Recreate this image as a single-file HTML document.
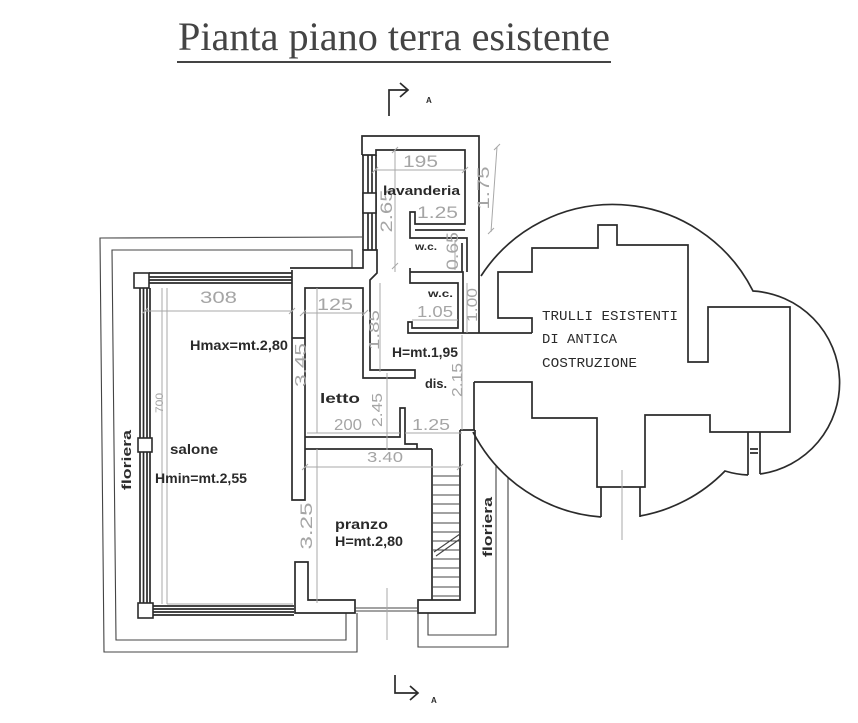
<!DOCTYPE html>
<html><head><meta charset="utf-8"><style>
html,body{margin:0;padding:0;background:#fff;}
svg{display:block;}
.w{stroke:#2b2b2b;stroke-width:1.7;fill:none;stroke-linejoin:miter}
.wf{stroke:#2b2b2b;stroke-width:1.6;fill:#fff}
.t{stroke:#444;stroke-width:1.1;fill:none}
.d{stroke:#a8a8a8;stroke-width:1;fill:none}
.lbl{font-family:"Liberation Sans",sans-serif;font-weight:bold;fill:#2a2a2a}
.dim{font-family:"Liberation Sans",sans-serif;fill:#a5a5a5}
.mono{font-family:"Liberation Mono",monospace;fill:#2a2a2a}
</style></head><body>
<svg width="858" height="723" viewBox="0 0 858 723" xmlns="http://www.w3.org/2000/svg">
<!-- Title -->
<text x="178" y="50" font-family="Liberation Serif, serif" font-size="40" fill="#444" textLength="432" lengthAdjust="spacingAndGlyphs">Pianta piano terra esistente</text>
<line x1="177" y1="62" x2="611" y2="62" stroke="#444" stroke-width="2"/>

<!-- Section arrows -->
<path class="w" d="M389,116 L389,90 L408,90 M400,83 L408,90 L400,97"/>
<text x="426" y="103" class="lbl" font-size="8">A</text>
<path class="w" d="M395,675 L395,693 L418,693 M410,686 L418,693 L410,700"/>
<text x="431" y="703" class="lbl" font-size="8">A</text>

<!-- Floriera lines -->
<path class="t" d="M362,237 L100,238 L104,652 L357,652 L357,613"/>
<path class="t" d="M352,268 L352,250 L112,250 L116,640 L346,640 L346,613"/>
<path class="t" d="M428,613 L428,635 L496,635 L496,466"/>
<path class="t" d="M418,613 L418,647 L508,647 L508,478"/>

<!-- Salone windows -->
<path class="w" d="M149,273 L292,273 M149,277 L292,277 M149,280 L292,280 M149,283 L292,283" stroke-width="1.2"/>
<path class="w" d="M140,288 L140,603 M143.5,288 L143.5,603 M147,288 L147,603 M150,288 L150,603" stroke-width="1.2"/>
<path class="w" d="M153,606 L294,606 M153,609 L294,609 M153,612 L294,612 M153,615 L294,615" stroke-width="1.2"/>
<rect class="wf" x="134" y="273" width="15" height="15"/>
<rect class="wf" x="138" y="438" width="14" height="14"/>
<rect class="wf" x="138" y="603" width="15" height="15"/>

<!-- Letto / salone walls -->
<path class="w" d="M290,268 L363,268 L363,250 L377,250 L377,273 L370,280 L370,370 L415,370 L415,378 L363,378 L363,288 L305,288 L305,500 L292,500 L292,270"/>
<path class="w" d="M292,338 L305,338"/>

<!-- Lavanderia block -->
<path class="w" d="M362,155 L362,136 L479,136 L479,333"/>
<path class="w" d="M362,155 L376,155 L376,150 L465,150 L465,224 L415,224 L415,212 L410,212 L410,238 L467,238 L467,272"/>
<path class="w" d="M415,230 L465,230"/>
<path class="w" d="M462,243 L462,272 M410,268 L410,283 L458,283 L458,328 L412,328 L412,322 L408,322 L408,333 L532,333"/>
<path class="w" d="M410,272 L463,272 L463,333"/>
<!-- lav window -->
<path class="w" d="M363,155 L363,250 M368,155 L368,250 M372,155 L372,250 M376,155 L376,250" stroke-width="1.2"/>
<rect class="wf" x="363" y="193" width="13" height="20"/>

<!-- Letto bottom wall -->
<path class="w" d="M305,437 L400,437 L400,408 L405,408 L405,444 L417,444 L417,449 M305,449 L432,449"/>

<!-- Pranzo / stairs -->
<path class="w" d="M432,449 L432,600"/>
<path class="w" d="M474,382 L474,430 M460,430 L475,430 M460,430 L460,600 L418,600 L418,613 L475,613 L475,430"/>
<path class="t" d="M432,467 L460,467 M432,476 L460,476 M432,485 L460,485 M432,495 L460,495 M432,504 L460,504 M432,513 L460,513 M432,523 L460,523 M432,532 L460,532 M432,541 L460,541 M432,550 L460,550 M432,559 L460,559 M432,568 L460,568 M432,577 L460,577 M432,587 L460,587 M432,596 L460,596"/>
<path class="t" d="M434,552 L460,534 M436,556 L460,539"/>
<path class="w" d="M295,562 L308,562 L308,600 L355,600 L355,613 L295,613 Z"/>
<path class="t" d="M355,608 L418,608 M355,611 L418,611"/>
<path class="d" d="M387,588 L387,640"/>

<!-- Trulli -->
<path class="w" d="M481,276 A157,157 0 0 1 753,291 A92,92 0 0 1 760,474 M748,475 A92,92 0 0 1 725,471 A157,157 0 0 1 640,516 M601,517 A157,157 0 0 1 473,432" stroke-width="1.5"/>
<path class="w" stroke-width="1.5" d="M532,333 L532,318 L498,318 L498,272 L532,272 L532,248 L598,248 L598,225 L617,225 L617,245 L688,245 L688,362 L708,362 L708,307 L790,307 L790,432 L710,432 L710,415 L645,415 L645,487 L597,487 L597,418 L532,418 L532,382 L474,382"/>
<path class="w" stroke-width="1.3" d="M601,487 L601,517 M640,487 L640,517 M748,432 L748,475 M760,432 L760,474 M750,449 L758,449 M750,453 L758,453"/>
<path class="d" d="M622,470 L622,540"/>

<!-- Dimension lines -->
<path class="d" d="M145,311 L292,311 M142,314 L148,308 M289,314 L295,308
M162,288 L162,604 M167,288 L167,604 M167,604 L293,604
M303,313 L365,313 M300,316 L306,310 M362,316 L368,310
M317,288 L317,433 M317,449 L317,603
M380,283 L380,372 M387,373 L387,450
M307,433 L400,433 M405,433 L462,433
M305,467 L460,467 M302,470 L308,464 M457,470 L463,464
M462,335 L462,430
M412,320 L458,320
M467,283 L467,333
M455,240 L455,270
M375,170 L465,170 M372,173 L378,167 M462,173 L468,167
M395,150 L395,272 M392,153 L398,147 M392,269 L398,263
M497,147 L491,232 M494,150 L500,144 M488,234 L494,228"/>

<!-- Dimension texts -->
<text class="dim" x="200" y="303" font-size="17" textLength="37" lengthAdjust="spacingAndGlyphs">308</text>
<text class="dim" x="317" y="310" font-size="17" textLength="36" lengthAdjust="spacingAndGlyphs">125</text>
<text class="dim" x="403" y="167" font-size="17" textLength="35" lengthAdjust="spacingAndGlyphs">195</text>
<text class="dim" x="417" y="218" font-size="17" textLength="41" lengthAdjust="spacingAndGlyphs">1.25</text>
<text class="dim" x="417" y="317" font-size="16" textLength="36" lengthAdjust="spacingAndGlyphs">1.05</text>
<text class="dim" x="412" y="430" font-size="16" textLength="38" lengthAdjust="spacingAndGlyphs">1.25</text>
<text class="dim" x="334" y="430" font-size="16" textLength="28" lengthAdjust="spacingAndGlyphs">200</text>
<text class="dim" x="367" y="462" font-size="15" textLength="36" lengthAdjust="spacingAndGlyphs">3.40</text>
<g class="dim" text-anchor="middle">
<text transform="translate(392,211) rotate(-90)" font-size="17" textLength="43" lengthAdjust="spacingAndGlyphs">2.65</text>
<text transform="translate(489,188) rotate(-90)" font-size="17" textLength="43" lengthAdjust="spacingAndGlyphs">1.75</text>
<text transform="translate(458,251) rotate(-90)" font-size="17" textLength="38" lengthAdjust="spacingAndGlyphs">0.65</text>
<text transform="translate(477,305) rotate(-90)" font-size="15" textLength="34" lengthAdjust="spacingAndGlyphs">1.00</text>
<text transform="translate(379,330) rotate(-90)" font-size="15" textLength="40" lengthAdjust="spacingAndGlyphs">1.85</text>
<text transform="translate(306,365) rotate(-90)" font-size="16" textLength="44" lengthAdjust="spacingAndGlyphs">3.45</text>
<text transform="translate(382,410) rotate(-90)" font-size="15" textLength="34" lengthAdjust="spacingAndGlyphs">2.45</text>
<text transform="translate(462,380) rotate(-90)" font-size="15" textLength="34" lengthAdjust="spacingAndGlyphs">2.15</text>
<text transform="translate(312,526) rotate(-90)" font-size="17" textLength="47" lengthAdjust="spacingAndGlyphs">3.25</text>
<text transform="translate(163,403) rotate(-90)" font-size="11" textLength="20" lengthAdjust="spacingAndGlyphs">700</text>
</g>

<!-- Labels -->
<text class="lbl" x="383" y="195" font-size="13" textLength="77" lengthAdjust="spacingAndGlyphs">lavanderia</text>
<text class="lbl" x="415" y="250" font-size="10" textLength="22" lengthAdjust="spacingAndGlyphs">w.c.</text>
<text class="lbl" x="428" y="297" font-size="10" textLength="25" lengthAdjust="spacingAndGlyphs">w.c.</text>
<text class="lbl" x="190" y="350" font-size="14" textLength="98" lengthAdjust="spacingAndGlyphs">Hmax=mt.2,80</text>
<text class="lbl" x="392" y="357" font-size="14" textLength="66" lengthAdjust="spacingAndGlyphs">H=mt.1,95</text>
<text class="lbl" x="425" y="388" font-size="13" textLength="22" lengthAdjust="spacingAndGlyphs">dis.</text>
<text class="lbl" x="320" y="403" font-size="14" textLength="40" lengthAdjust="spacingAndGlyphs">letto</text>
<text class="lbl" x="170" y="454" font-size="14" textLength="48" lengthAdjust="spacingAndGlyphs">salone</text>
<text class="lbl" x="155" y="483" font-size="14" textLength="92" lengthAdjust="spacingAndGlyphs">Hmin=mt.2,55</text>
<text class="lbl" x="335" y="529" font-size="14" textLength="53" lengthAdjust="spacingAndGlyphs">pranzo</text>
<text class="lbl" x="335" y="546" font-size="14" textLength="68" lengthAdjust="spacingAndGlyphs">H=mt.2,80</text>
<g class="lbl" text-anchor="middle">
<text transform="translate(131,460) rotate(-90)" font-size="13" textLength="60" lengthAdjust="spacingAndGlyphs">floriera</text>
<text transform="translate(492,527) rotate(-90)" font-size="13" textLength="60" lengthAdjust="spacingAndGlyphs">floriera</text>
</g>
<text class="mono" x="542" y="320" font-size="14" textLength="136" lengthAdjust="spacingAndGlyphs">TRULLI ESISTENTI</text>
<text class="mono" x="542" y="343" font-size="14" textLength="75" lengthAdjust="spacingAndGlyphs">DI ANTICA</text>
<text class="mono" x="542" y="367" font-size="14" textLength="95" lengthAdjust="spacingAndGlyphs">COSTRUZIONE</text>
</svg>
</body></html>
